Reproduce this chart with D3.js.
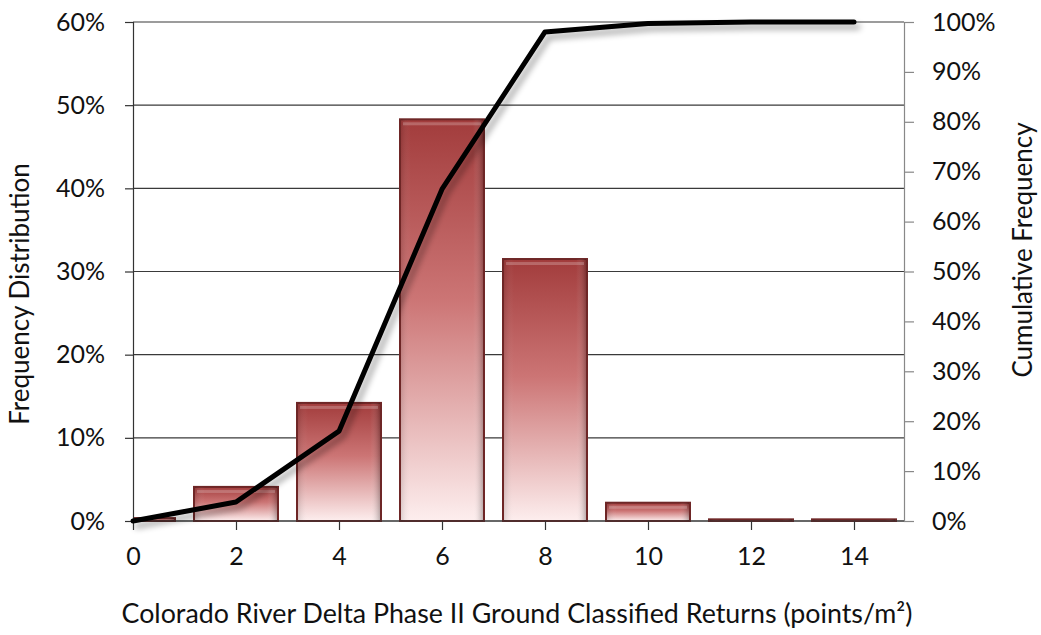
<!DOCTYPE html>
<html>
<head>
<meta charset="utf-8">
<script src="https://cdn.jsdelivr.net/npm/d3@7"></script>
<style>
  html, body { margin: 0; padding: 0; background: #fff; }
  svg { display: block; }
  text { font-family: Lato, "Open Sans", sans-serif; fill: #111; }
</style>
</head>
<body>
<svg id="chart" width="1041" height="635"></svg>
<script>
// Returns per bin (points/m²)
const bins = [0, 2, 4, 6, 8, 10, 12, 14];
const frequency = [0.35, 4.1, 14.2, 48.3, 31.5, 2.2, 0.2, 0.2];      // % of cells
const cumulative = [0, 3.8, 18.0, 66.5, 98.0, 99.7, 100, 100];      // running %
const leftTicks = [0, 10, 20, 30, 40, 50, 60];
const rightTicks = [0, 10, 20, 30, 40, 50, 60, 70, 80, 90, 100];

const svg = d3.select("#chart");
const m = { left: 133, right: 904, top: 22, bottom: 521 };

const x = d3.scaleLinear().domain([0, 15]).range([m.left, m.left + 7.5 * 103]);
const yL = d3.scaleLinear().domain([0, 60]).range([m.bottom, m.top]);
const yR = d3.scaleLinear().domain([0, 100]).range([m.bottom, m.top]);
const barW = 84;

const defs = svg.append("defs");
const grad = defs.append("linearGradient").attr("id", "barFill")
  .attr("x1", 0).attr("y1", 0).attr("x2", 0).attr("y2", 1);
grad.append("stop").attr("offset", "0%").attr("stop-color", "#a23c3c");
grad.append("stop").attr("offset", "45%").attr("stop-color", "#cc7575");
grad.append("stop").attr("offset", "100%").attr("stop-color", "#fdeeee");

const sheen = defs.append("linearGradient").attr("id", "barSheen")
  .attr("x1", 0).attr("y1", 0).attr("x2", 1).attr("y2", 0);
sheen.append("stop").attr("offset", "0%").attr("stop-color", "#000").attr("stop-opacity", 0.12);
sheen.append("stop").attr("offset", "12%").attr("stop-color", "#fff").attr("stop-opacity", 0.0);
sheen.append("stop").attr("offset", "88%").attr("stop-color", "#fff").attr("stop-opacity", 0.0);
sheen.append("stop").attr("offset", "100%").attr("stop-color", "#000").attr("stop-opacity", 0.25);

const shadow = defs.append("filter").attr("id", "lineShadow")
  .attr("x", "-10%").attr("y", "-10%").attr("width", "130%").attr("height", "130%");
shadow.append("feGaussianBlur").attr("in", "SourceAlpha").attr("stdDeviation", 3).attr("result", "b");
shadow.append("feOffset").attr("in", "b").attr("dx", 4).attr("dy", 5).attr("result", "o");
shadow.append("feComponentTransfer").attr("in", "o").attr("result", "s")
  .append("feFuncA").attr("type", "linear").attr("slope", 0.35);
const mg = shadow.append("feMerge");
mg.append("feMergeNode").attr("in", "s");
mg.append("feMergeNode").attr("in", "SourceGraphic");

defs.append("clipPath").attr("id", "plotClip").append("rect")
  .attr("x", m.left).attr("y", 0).attr("width", m.right - m.left).attr("height", m.bottom + 2);

// horizontal gridlines
svg.append("g").selectAll("line").data(leftTicks).join("line")
  .attr("x1", m.left).attr("x2", m.right)
  .attr("y1", d => yL(d)).attr("y2", d => yL(d))
  .attr("stroke", "#3a3a3a").attr("stroke-width", 1.2);

// bars
const bars = svg.append("g").attr("clip-path", "url(#plotClip)");
const bg = bars.selectAll("g").data(bins.map((b, i) => ({ b, v: frequency[i] }))).join("g");
bg.append("rect")
  .attr("x", d => x(d.b) - barW / 2).attr("width", barW)
  .attr("y", d => yL(d.v)).attr("height", d => yL(0) - yL(d.v))
  .attr("fill", "url(#barFill)").attr("stroke", "#6e2626").attr("stroke-width", 2);
bg.append("rect")
  .attr("x", d => x(d.b) - barW / 2 + 1).attr("width", barW - 2)
  .attr("y", d => yL(d.v)).attr("height", d => yL(0) - yL(d.v))
  .attr("fill", "url(#barSheen)");
bg.filter(d => yL(0) - yL(d.v) > 8).append("rect")
  .attr("x", d => x(d.b) - barW / 2 + 3).attr("width", barW - 6)
  .attr("y", d => yL(d.v) + 3).attr("height", 3)
  .attr("fill", "#fff").attr("opacity", 0.22);

// axes
const tickFont = "25px";
const axL = svg.append("g").attr("transform", `translate(${m.left},0)`)
  .call(d3.axisLeft(yL).tickValues(leftTicks).tickFormat(d => d + "%").tickSize(8).tickPadding(20));
const axR = svg.append("g").attr("transform", `translate(${m.right},0)`)
  .call(d3.axisRight(yR).tickValues(rightTicks).tickFormat(d => d + "%").tickSize(10).tickPadding(18));
const axB = svg.append("g").attr("transform", `translate(0,${m.bottom})`)
  .call(d3.axisBottom(x).tickValues(bins).tickSize(9).tickPadding(17));

[axL, axR, axB].forEach(a => {
  a.select(".domain").attr("stroke", "#333").attr("stroke-width", 1.2);
  a.selectAll(".tick line").attr("stroke", "#333").attr("stroke-width", 1.2);
  a.selectAll("text").style("font-family", "Lato, 'Open Sans', sans-serif")
    .style("font-size", tickFont).attr("fill", "#111");
});
axR.select(".domain").attr("stroke", "#888");
axR.selectAll(".tick line").attr("stroke", "#888");
axB.select(".domain").attr("d", `M${m.left},0H${m.right}`);

// cumulative line
const line = d3.line().x((d, i) => x(bins[i])).y(d => yR(d));
svg.append("path").datum(cumulative)
  .attr("d", line).attr("fill", "none")
  .attr("stroke", "#000").attr("stroke-width", 5)
  .attr("stroke-linejoin", "round").attr("stroke-linecap", "round")
  .attr("filter", "url(#lineShadow)");

// axis titles
svg.append("text").attr("transform", "translate(29,294) rotate(-90)")
  .attr("text-anchor", "middle").style("font-size", "26px").text("Frequency Distribution");
svg.append("text").attr("transform", "translate(1032,250) rotate(-90)")
  .attr("text-anchor", "middle").style("font-size", "26px").text("Cumulative Frequency");
svg.append("text").attr("x", 517).attr("y", 623)
  .attr("text-anchor", "middle").style("font-size", "26.8px")
  .text("Colorado River Delta Phase II Ground Classified Returns (points/m²)");
</script>
</body>
</html>
